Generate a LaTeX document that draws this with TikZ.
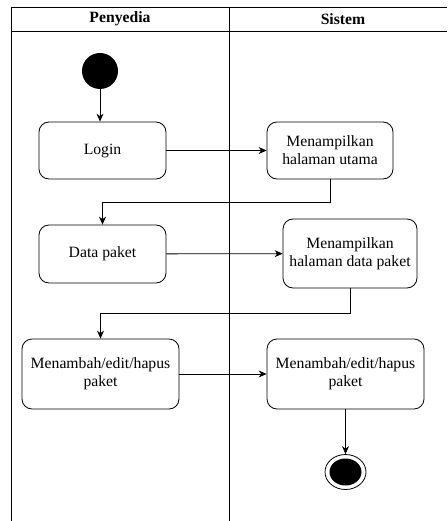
\documentclass[tikz,border=0pt]{standalone}
\usepackage{fontspec}
\setmainfont{Liberation Serif}
\usetikzlibrary{positioning,arrows.meta,shapes.geometric}

\newcommand{\diagramfont}{\fontsize{15.7}{18}\selectfont}
\tikzset{
	activity/.style = {draw, rounded corners = 10pt, align = center, inner sep = 0pt, line width = 0.8pt},
	flow/.style = {line width = 0.8pt, -{Stealth[length = 8pt, width = 7pt]}},
	lane/.style = {line width = 0.9pt},
	lanetitle/.style = {font = \diagramfont\bfseries},
}
\newcommand{\swimlanes}{\draw[lane] (11,521) -- (11,7) -- (447,7);
					\draw[lane] (11,31) -- (447,31);
					\draw[lane] (229,7) -- (229,521);}

\begin{document}
\begin{tikzpicture}[x = 1pt, y = -1pt, font = \diagramfont]

					\useasboundingbox (0,0) rectangle (447,521);

					% swimlanes
					\swimlanes
					\node[lanetitle] (penyedia) at (120,19) {Penyedia};
					\node[lanetitle] (sistem) at (343,19) {Sistem};

					% start and end
					\node[circle, fill, inner sep = 0pt, minimum size = 36pt] (start) at (100,71) {};
					\node[ellipse, draw, line width = 0.8pt, inner sep = 0pt, minimum width = 41pt, minimum height = 35pt] (final) at (345.5,472) {};
					\node[ellipse, fill, inner sep = 0pt, minimum width = 32pt, minimum height = 27pt] (finaldot) at (final) {};

					% activities
					\node[activity, minimum width = 127pt, minimum height = 57pt] (login) at (102.5,150.5) {Login};
					\node[activity, minimum width = 126pt, minimum height = 57pt] (utama) at (330,150.5) {Menampilkan\\halaman utama};
					\node[activity, minimum width = 127pt, minimum height = 58pt] (paket) at (102.5,254) {Data paket};
					\node[activity, minimum width = 134pt, minimum height = 69pt] (halpaket) at (350,253.5) {Menampilkan\\halaman data paket};
					\node[activity, minimum width = 157pt, minimum height = 70pt] (ubah) at (100.5,374) {Menambah/edit/hapus\\paket};
					\node[activity, minimum width = 157pt, minimum height = 70pt] (simpan) at (345.5,374) {Menambah/edit/hapus\\paket};

					% flows
					\draw[flow] (start) -- (start |- login.north);
					\draw[flow] (login) -- (utama);
					\draw[flow] (utama.south) -- ++(0,23) -| (paket.north);
					\draw[flow] (paket) -- (halpaket);
					\draw[flow] (halpaket.south) -- ++(0,25) -| (ubah.north);
					\draw[flow] (ubah) -- (simpan);
					\draw[flow] (simpan) -- (final);

\end{tikzpicture}
\end{document}
